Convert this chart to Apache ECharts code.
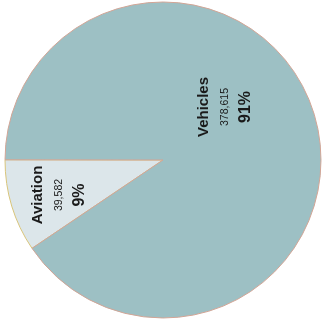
<!DOCTYPE html>
<html>
<head>
<meta charset="utf-8">
<style>
  html, body { margin: 0; padding: 0; background: #ffffff; }
  #chart { width: 326px; height: 326px; }
</style>
<script src="https://cdn.jsdelivr.net/npm/echarts@6/dist/echarts.min.js"></script>
</head>
<body>
<div id="chart"></div>
<script>
// Source categories and their totals
const categories = ['Aviation', 'Vehicles'];
const values = [39582, 378615];
const percentLabels = ['9%', '91%'];

const fills = ['#dce6ea', '#9dc0c4'];
const borders = ['#d8c47a', '#d2a596'];

// Label anchor points (rotated text blocks inside each slice)
const labelSpots = [[59, 195], [225, 107]];

const chart = echarts.init(document.getElementById('chart'), null, { renderer: 'canvas' });

const data = categories.map((name, i) => ({
  name,
  value: values[i],
  itemStyle: { color: fills[i], borderColor: borders[i], borderWidth: 1 }
}));

const font = 'Liberation Sans, Arial, sans-serif';

chart.setOption({
  animation: false,
  series: [{
    type: 'pie',
    center: [163, 160],
    radius: 158,
    startAngle: 214,
    clockwise: true,
    data,
    label: {
      show: true,
      position: 'inside',
      rotate: 90,
      align: 'center',
      verticalAlign: 'middle',
      fontFamily: font,
      color: '#1a1a1a',
      formatter: (p) => `{n|${p.name}}\n{v|${values[p.dataIndex].toLocaleString('en-US')}}\n{p|${percentLabels[p.dataIndex]}}`,
      rich: {
        n: { fontSize: 15, fontWeight: 'bold', lineHeight: 22, fontFamily: font, color: '#1a1a1a' },
        v: { fontSize: 10.5, lineHeight: 20, fontFamily: font, color: '#1a1a1a' },
        p: { fontSize: 16, fontWeight: 'bold', lineHeight: 22, fontFamily: font, color: '#1a1a1a' }
      }
    },
    labelLine: { show: false },
    labelLayout: (p) => ({ x: labelSpots[p.dataIndex][0], y: labelSpots[p.dataIndex][1] }),
    emphasis: { disabled: true }
  }]
});
</script>
</body>
</html>
